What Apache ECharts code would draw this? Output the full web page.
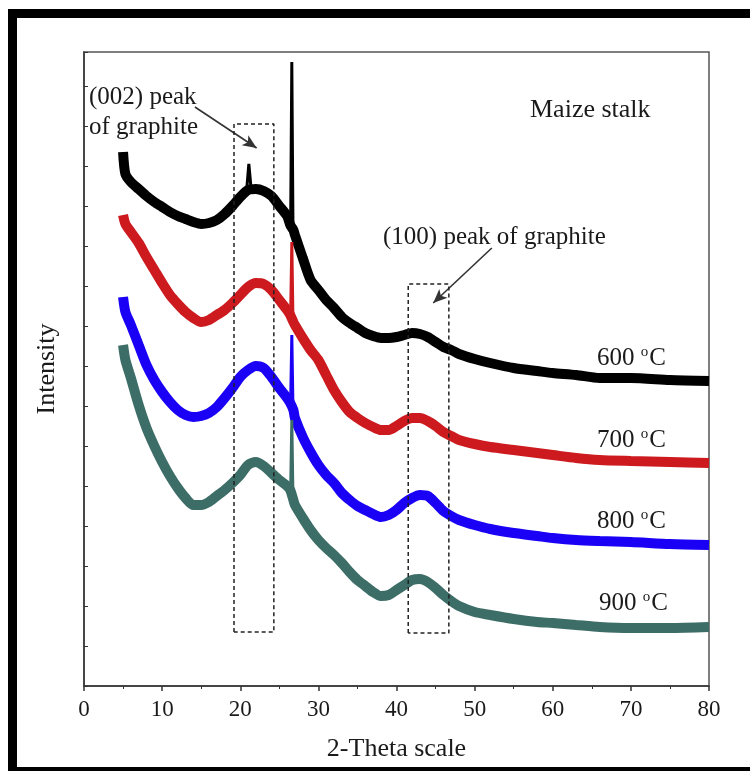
<!DOCTYPE html>
<html>
<head>
<meta charset="utf-8">
<script src="https://cdn.jsdelivr.net/npm/echarts@6/dist/echarts.min.js"></script>
<style>html,body{margin:0;padding:0;background:#fff;}#c{width:750px;height:771px;}</style>
</head>
<body>
<div id="c"></div>
<script>
// 2-Theta values (degrees) and intensity (a.u.)
const theta = [5.0,5.3,6,7,8,9,10,11,12,13,14,15,16,17,18,19,20,21,22,23,24,25,26,26.4,26.8,27,28,29,30,31,32,33,34,35,36,37,38,39,40,41,42,43,44,45,46,47,48,50,52,55,58,60,63,66,70,75,80];
const i600 = [534,512,504,497,490,484,479,474,470,467,464,462,463,466,472,480,489,496,497,495,490,480,470,461,456,451,428,406,396,386,378,369,363,358,353,350,348,348,349,351,353,352,349,344,339,336,332,327,323,318,315,313,311,308,308,306,305];
const i700 = [471,462,454,443,429,416,403,391,382,374,368,364,366,371,376,383,391,399,403,402,396,386,376,371,364,361,348,336,326,311,296,284,274,268,263,259,256,256,260,265,268,268,265,260,254,250,246,242,239,236,233,231,228,226,225,224,223];
const i800 = [389,374,361,341,321,306,294,284,276,271,269,270,273,279,288,298,309,316,320,318,309,298,288,283,276,268,249,234,221,211,203,193,186,180,176,172,169,171,176,183,188,191,190,183,175,170,166,161,157,153,150,148,146,145,144,142,141];
const i900 = [341,326,308,281,258,240,224,210,198,188,181,181,184,190,196,203,211,221,224,220,213,206,200,196,186,181,168,156,146,138,131,123,114,106,100,94,90,91,96,101,106,107,104,98,91,85,80,74,71,67,64,63,61,59,58,58,59];
// sharp peaks near 26.6 deg (theta, intensity) and the small (002) spike of 600 C
const spikeTheta = [26.45,26.6,26.75];
const s600 = [461,624,456];
const s700 = [371,444,364];
const s800 = [283,351,276];
const s900 = [196,266,186];
const small002Theta = [20.8,21.1,21.4];
const small002 = [494,522,496];
// dashed boxes [theta1, theta2, low, high]
const box002 = [19.2,24.3,54,562];
const box100 = [41.5,46.7,53,402];
const xTicks = [0,10,20,30,40,50,60,70,80];
const labels = ['600 ','700 ','800 ','900 '];
const colors = ['#000000','#cc1a1f','#1a00f5','#3d6d67'];

function pairs(xs, ys){ return xs.map((x,k)=>[x,ys[k]]); }
function boxData(b){ return [[b[0],b[2]],[b[0],b[3]],[b[1],b[3]],[b[1],b[2]],[b[0],b[2]]]; }
const serif = '"Liberation Serif","Times New Roman",serif';

const mains = [i600,i700,i800,i900];
const spikes = [s600,s700,s800,s900];
const series = [];
mains.forEach((arr,k)=>{
  series.push({type:'line',data:pairs(theta, arr),smooth:0.25,showSymbol:false,symbol:'none',lineStyle:{color:colors[k],width:10},z:2+k});
  series.push({type:'line',data:pairs(spikeTheta,spikes[k]),showSymbol:false,symbol:'none',lineStyle:{color:colors[k],width:3},z:2+k});
  if(k===0){
    series.push({type:'line',data:pairs(small002Theta,small002),showSymbol:false,symbol:'none',lineStyle:{color:colors[k],width:3},z:2});
  }
});
series.push({type:'line',data:boxData(box002),showSymbol:false,symbol:'none',lineStyle:{color:'#222',width:1.5,type:[4,3]},z:10});
series.push({type:'line',data:boxData(box100),showSymbol:false,symbol:'none',lineStyle:{color:'#222',width:1.5,type:[4,3]},z:10,
  markLine:{silent:true,symbol:['none','arrow'],symbolSize:[9,14],label:{show:false},
    lineStyle:{color:'#333',width:1.6,type:'solid'},
    data:[[{coord:[14.2,579]},{coord:[22.1,538]}],[{coord:[52.2,438]},{coord:[44.7,383]}]]}});

const chart = echarts.init(document.getElementById('c'));
const txt = (t,x,y,size,align)=>({type:'text',x:x,y:y,style:{text:t,font:size+'px '+serif,fill:'#1a1a1a',textAlign:align||'left',textVerticalAlign:'middle'}});
const tempLabel = (k,x,y)=>({type:'text',x:x,y:y,style:{text:labels[k]+'{s|o}C',font:'25px '+serif,fill:'#1a1a1a',textVerticalAlign:'middle',
  rich:{s:{fontSize:15,fontFamily:serif,fill:'#1a1a1a',verticalAlign:'top',padding:[0,1,12,0]}}}});
chart.setOption({
  animation:false,
  backgroundColor:'#fff',
  grid:{left:84,right:41,top:52,bottom:85,show:true,borderColor:'#555',borderWidth:1.5},
  xAxis:{type:'value',min:0,max:80,interval:10,
    axisLine:{lineStyle:{color:'#333',width:1.5}},
    axisTick:{length:5,lineStyle:{color:'#333',width:1.5}},
    minorTick:{show:true,splitNumber:2,length:3,lineStyle:{color:'#333'}},
    splitLine:{show:false},
    axisLabel:{fontSize:23,fontFamily:serif,color:'#1a1a1a',margin:12,formatter:v=>xTicks.includes(v)?String(v):''},
    name:'2-Theta scale',nameLocation:'middle',nameGap:50,nameTextStyle:{fontSize:26,fontFamily:serif,color:'#1a1a1a'}},
  yAxis:{type:'value',min:0,max:634,interval:40,
    axisLine:{show:true,lineStyle:{color:'#333',width:1.5}},
    axisTick:{show:true,inside:true,length:4,lineStyle:{color:'#333'}},
    axisLabel:{show:false},splitLine:{show:false},
    name:'Intensity',nameLocation:'middle',nameGap:24,nameRotate:90,nameTextStyle:{fontSize:26,fontFamily:serif,color:'#1a1a1a'}},
  series:series,
  graphic:[
    {type:'rect',shape:{x:8,y:9,width:742,height:9},style:{fill:'#000'}},
    {type:'rect',shape:{x:8,y:9,width:9,height:762},style:{fill:'#000'}},
    {type:'rect',shape:{x:8,y:767,width:742,height:4},style:{fill:'#000'}},
    txt('(002) peak',89,97,25),
    txt('of graphite',89,127,25),
    txt('Maize stalk',530,110,26),
    txt('(100) peak of graphite',383,237,25),
    tempLabel(0,597,358),
    tempLabel(1,597,440),
    tempLabel(2,597,521),
    tempLabel(3,599,603)
  ]
});
</script>
</body>
</html>
